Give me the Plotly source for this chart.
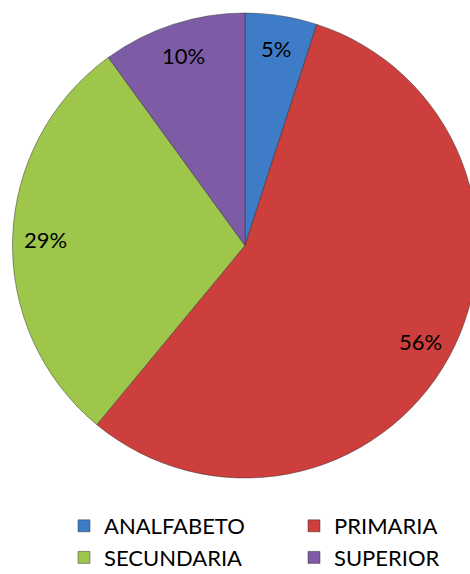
import math
import plotly.graph_objects as go

# Education level breakdown
categories = ["ANALFABETO", "PRIMARIA", "SECUNDARIA", "SUPERIOR"]
shares = [5, 56, 29, 10]
colors = ["#3E7CC8", "#CC3F3C", "#9DC64B", "#7D5BA5"]

FIG_W, FIG_H = 490, 574
FONT = "Lato"

# pie placement in pixels (center and radius)
cx, cy, radius = 245.0, 245.5, 232.5
dom_x = [(cx - radius) / FIG_W, (cx + radius) / FIG_W]
dom_y = [(FIG_H - (cy + radius)) / FIG_H, (FIG_H - (cy - radius)) / FIG_H]

fig = go.Figure(
    go.Pie(
        labels=categories,
        values=shares,
        sort=False,
        direction="clockwise",
        rotation=0,
        marker=dict(colors=colors, line=dict(color="rgba(40,40,40,0.45)", width=1)),
        textinfo="none",
        hoverinfo="label+percent",
        domain=dict(x=dom_x, y=dom_y),
    )
)

# percentage labels placed near the outer rim, at each slice's mid-angle
total = sum(shares)
cum = 0.0
annotations = []
for v in shares:
    mid = (cum + v / 2) / total
    cum += v
    theta = 2 * math.pi * mid
    px = cx + 0.86 * radius * math.sin(theta)
    py = cy - 0.86 * radius * math.cos(theta)
    annotations.append(
        dict(
            x=px / FIG_W,
            y=1 - py / FIG_H,
            xref="paper",
            yref="paper",
            xanchor="center",
            yanchor="middle",
            text=f"{round(v / total * 100)}%",
            showarrow=False,
            font=dict(family=FONT, size=22, color="#000000"),
        )
    )

fig.update_layout(
    width=FIG_W,
    height=FIG_H,
    margin=dict(l=0, r=0, t=0, b=0, autoexpand=False),
    paper_bgcolor="white",
    plot_bgcolor="white",
    annotations=annotations,
    showlegend=True,
    legend=dict(
        orientation="h",
        x=64 / FIG_W,
        xanchor="left",
        y=1 - 505 / FIG_H,
        yanchor="top",
        entrywidth=185,
        font=dict(family=FONT, size=22, color="#000000"),
        bgcolor="rgba(0,0,0,0)",
    ),
)

fig.write_html(
    "out.html",
    post_script="document.body.style.overflow='hidden';document.documentElement.style.overflow='hidden';",
)
